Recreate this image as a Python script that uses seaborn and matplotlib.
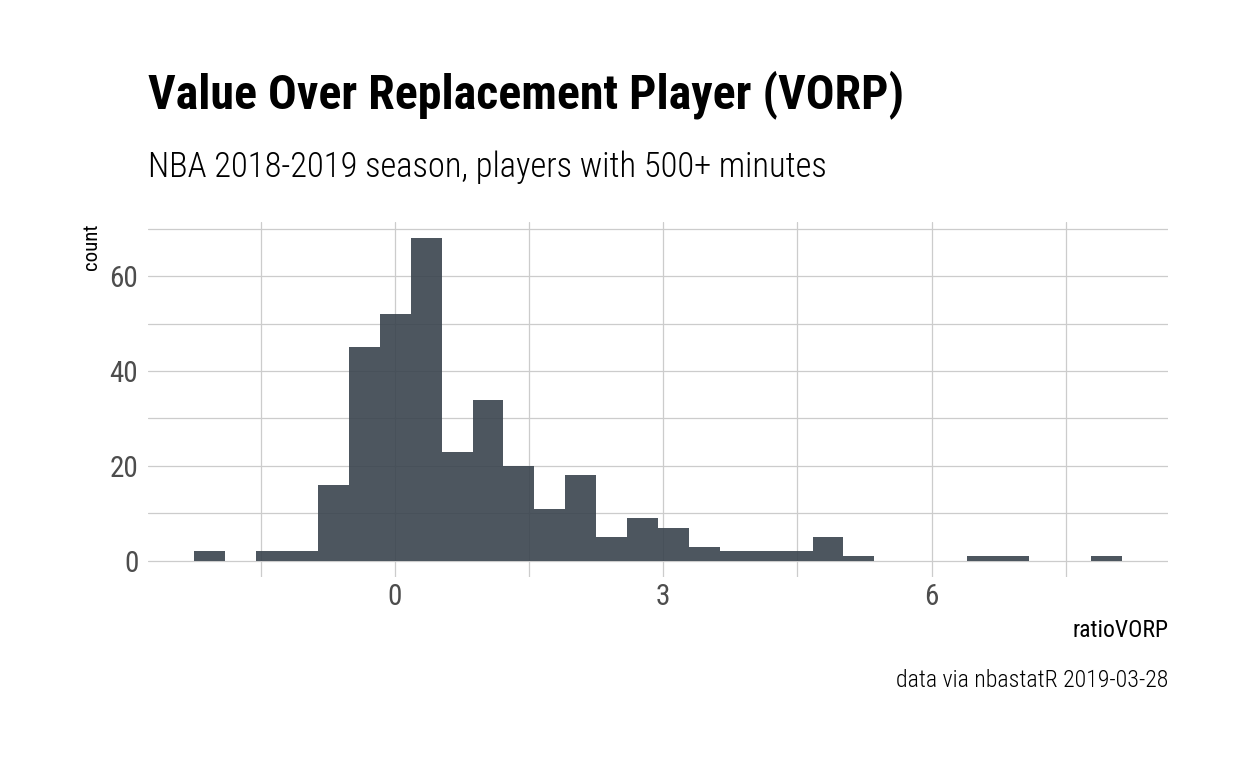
import matplotlib

matplotlib.use("Agg")
import matplotlib.pyplot as plt
import numpy as np
import pandas as pd
import seaborn as sns
from matplotlib.ticker import FixedLocator

# histogram of ratioVORP: 30 bins, counts
bin_start = -2.24
bin_width = 0.3455
counts = [2, 0, 2, 2, 16, 45, 52, 68, 23, 34, 20, 11, 18, 5, 9,
          7, 3, 2, 2, 2, 5, 1, 0, 0, 0, 1, 1, 0, 0, 1]
x_major = [0, 3, 6]
x_minor = [-1.5, 1.5, 4.5, 7.5]
y_major = [0, 20, 40, 60]
y_minor = [10, 30, 50, 70]

title = "Value Over Replacement Player (VORP)"
subtitle = "NBA 2018-2019 season, players with 500+ minutes"
caption = "data via nbastatR 2019-03-28"

edges = bin_start + bin_width * np.arange(len(counts) + 1)
df = pd.DataFrame({"ratioVORP": edges[:-1] + bin_width / 2, "n": counts})

sns.set_theme(style="whitegrid")
plt.rcParams["font.family"] = ["Roboto Condensed", "Roboto", "DejaVu Sans"]

W, H = 1248, 771
fig = plt.figure(figsize=(W / 100, H / 100), dpi=100)
ax = fig.add_axes([148 / W, 1 - 577 / H, 1020 / W, 355 / H])
ax.set_axisbelow(True)

# bars are slightly see-through so the grid shows faintly, like the ggplot original
sns.histplot(data=df, x="ratioVORP", weights="n", bins=edges.tolist(), color="#3a444e",
             alpha=0.9, linewidth=0, ax=ax)

# ggplot-style 5% expansion on both axes
span = edges[-1] - edges[0]
ax.set_xlim(edges[0] - 0.05 * span, edges[-1] + 0.05 * span)
ax.set_ylim(-0.05 * max(counts), 1.05 * max(counts))
ax.xaxis.set_major_locator(FixedLocator(x_major))
ax.xaxis.set_minor_locator(FixedLocator(x_minor))
ax.yaxis.set_major_locator(FixedLocator(y_major))
ax.yaxis.set_minor_locator(FixedLocator(y_minor))
ax.grid(True, which="both", color="#cccccc", linewidth=0.9)
for s in ax.spines.values():
    s.set_visible(False)
ax.tick_params(which="both", length=0)
ax.tick_params(axis="x", pad=4, labelsize=21, labelcolor="#4d4d4d")
ax.tick_params(axis="y", pad=7, labelsize=21, labelcolor="#4d4d4d")
ax.set_xlabel("")
ax.set_ylabel("")

fig.text(148 / W, 1 - 108 / H, title, fontsize=34.5, fontweight="bold", color="black", va="baseline")
fig.text(148 / W, 1 - 176.5 / H, subtitle, fontsize=24.85, fontweight="light", color="black",
         va="baseline")
fig.text(1168 / W, 1 - 637 / H, "ratioVORP", fontsize=17, color="black", ha="right", va="baseline")
fig.text(1168 / W, 1 - 687 / H, caption, fontsize=17.2, fontweight="light", color="black",
         ha="right", va="baseline")
fig.text(82 / W, 1 - 223 / H, "count", fontsize=15, rotation=90, color="black", ha="left", va="top")

fig.savefig("out.png", dpi=100)
